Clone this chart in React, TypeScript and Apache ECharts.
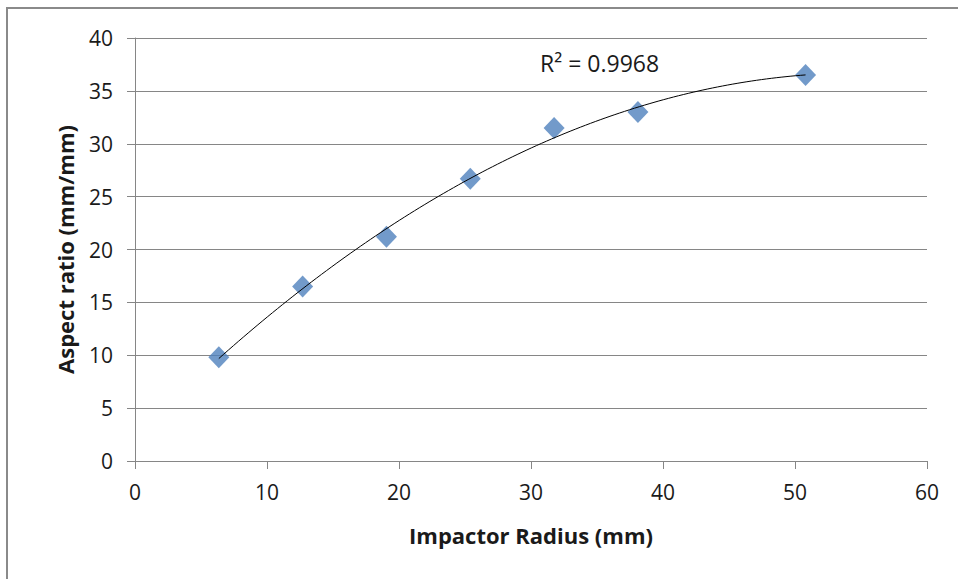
import React, { useEffect, useRef } from "react";
import * as echarts from "echarts";

const radiusMm = [6.35, 12.7, 19.05, 25.4, 31.75, 38.1, 50.8];
const aspectRatio = [9.8, 16.5, 21.2, 26.7, 31.5, 33.0, 36.5];
const xTicks = { min: 0, max: 60, interval: 10 };
const yTicks = { min: 0, max: 40, interval: 5 };
const r2Label = "R² = 0.9968";

// Least-squares quadratic fit (Excel polynomial trendline, order 2)
function quadFit(xs: number[], ys: number[]) {
  const n = xs.length;
  let s = [0, 0, 0, 0, 0];
  let t = [0, 0, 0];
  for (let i = 0; i < n; i++) {
    const x = xs[i];
    const y = ys[i];
    for (let k = 0; k <= 4; k++) s[k] += Math.pow(x, k);
    for (let k = 0; k <= 2; k++) t[k] += Math.pow(x, k) * y;
  }
  const A = [
    [s[0], s[1], s[2], t[0]],
    [s[1], s[2], s[3], t[1]],
    [s[2], s[3], s[4], t[2]],
  ];
  for (let c = 0; c < 3; c++) {
    let p = c;
    for (let r = c + 1; r < 3; r++) if (Math.abs(A[r][c]) > Math.abs(A[p][c])) p = r;
    [A[c], A[p]] = [A[p], A[c]];
    for (let r = 0; r < 3; r++) {
      if (r === c) continue;
      const f = A[r][c] / A[c][c];
      for (let k = c; k < 4; k++) A[r][k] -= f * A[c][k];
    }
  }
  return [A[0][3] / A[0][0], A[1][3] / A[1][1], A[2][3] / A[2][2]];
}

export default function App() {
  const ref = useRef<HTMLDivElement>(null);
  useEffect(() => {
    if (!ref.current) return;
    const chart = echarts.init(ref.current, undefined, { renderer: "svg" });
    const [c0, c1, c2] = quadFit(radiusMm, aspectRatio);
    const x0 = radiusMm[0];
    const x1 = radiusMm[radiusMm.length - 1];
    const trend: number[][] = [];
    const steps = 120;
    for (let i = 0; i <= steps; i++) {
      const x = x0 + ((x1 - x0) * i) / steps;
      trend.push([x, c0 + c1 * x + c2 * x * x]);
    }
    const font = "'Open Sans', 'Liberation Sans', sans-serif";
    const gray = "#868686";
    chart.setOption({
      animation: false,
      backgroundColor: "#ffffff",
      textStyle: { fontFamily: font },
      grid: { left: 135, right: 31, top: 38, bottom: 118, containLabel: false },
      xAxis: {
        type: "value",
        min: xTicks.min,
        max: xTicks.max,
        interval: xTicks.interval,
        name: "Impactor Radius (mm)",
        nameLocation: "middle",
        nameGap: 63,
        nameTextStyle: { fontFamily: font, fontSize: 22, fontWeight: "bold", color: "#1a1a1a" },
        axisLine: { show: true, onZero: false, lineStyle: { color: gray, width: 1 } },
        axisTick: { show: true, inside: false, length: 8, lineStyle: { color: gray } },
        axisLabel: { fontFamily: font, fontSize: 21, color: "#1a1a1a", margin: 20 },
        splitLine: { show: false },
      },
      yAxis: {
        type: "value",
        min: yTicks.min,
        max: yTicks.max,
        interval: yTicks.interval,
        name: "Aspect ratio (mm/mm)",
        nameLocation: "middle",
        nameRotate: 90,
        nameGap: 59,
        nameTextStyle: { fontFamily: font, fontSize: 22, fontWeight: "bold", color: "#1a1a1a" },
        axisLine: { show: true, onZero: false, lineStyle: { color: gray, width: 1 } },
        axisTick: { show: true, inside: false, length: 8, lineStyle: { color: gray } },
        axisLabel: { fontFamily: font, fontSize: 21, color: "#1a1a1a", margin: 22 },
        splitLine: { show: true, lineStyle: { color: gray, width: 1 } },
      },
      graphic: [
        {
          type: "rect",
          shape: { x: 7, y: 8, width: 1000, height: 1000 },
          style: { fill: "none", stroke: "#8a8a8a", lineWidth: 2 },
          silent: true,
        },
        {
          type: "text",
          left: 540,
          top: 51,
          style: { text: r2Label, font: `23px ${font}`, fill: "#1a1a1a" },
        },
      ],
      series: [
        {
          type: "line",
          data: trend,
          showSymbol: false,
          symbol: "none",
          smooth: false,
          lineStyle: { color: "#000000", width: 1 },
          z: 3,
          silent: true,
        },
        {
          type: "scatter",
          data: radiusMm.map((x, i) => [x, aspectRatio[i]]),
          symbol: "diamond",
          symbolSize: [21, 22],
          itemStyle: { color: "#4F81BD" },
          z: 2,
        },
      ],
    });
    return () => chart.dispose();
  }, []);
  return (
    <div
      ref={ref}
      style={{ position: "fixed", left: 0, top: 0, width: 958, height: 579, background: "#fff" }}
    />
  );
}
